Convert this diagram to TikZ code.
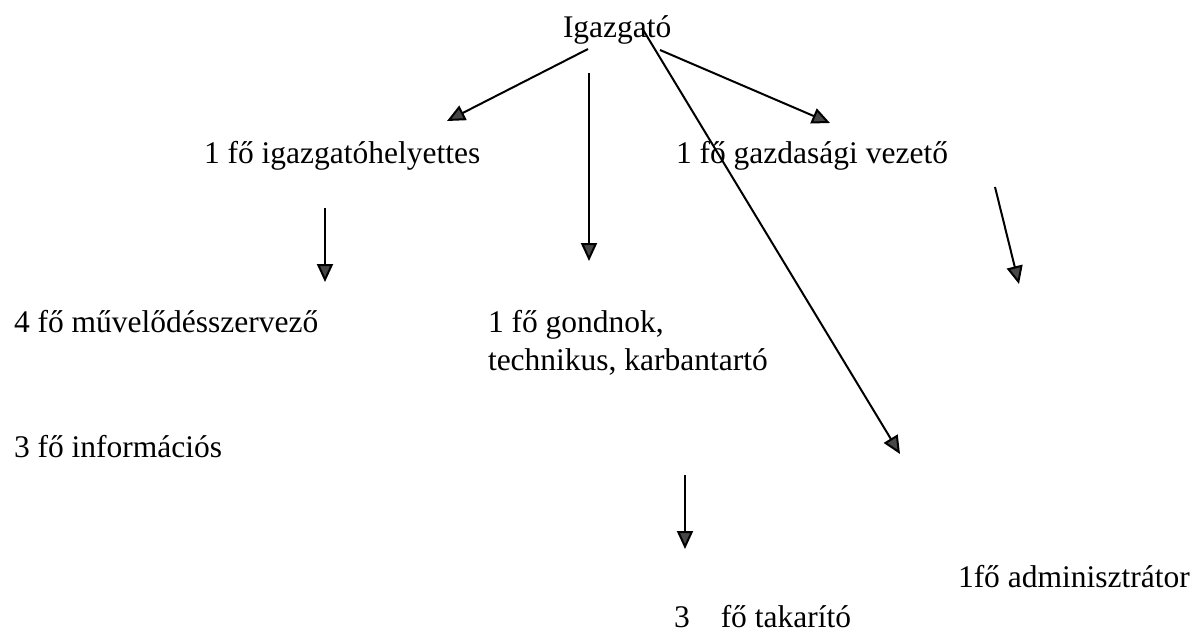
\documentclass[tikz,border=0pt]{standalone}
\usepackage{fontspec}
\setmainfont{Liberation Serif}
\usetikzlibrary{arrows.meta}

\begin{document}
\begin{tikzpicture}[x=1pt, y=-1pt, line width=2pt,
  txt/.style={anchor=base west, inner sep=0pt, font=\fontsize{31.5}{38}\selectfont},
  arr/.style={-{Triangle[length=18pt, width=16pt, fill=black!72]}}]
\useasboundingbox (0, 0) rectangle (1197, 633);
%Levels
\node[txt] (igazgato) at (562, 37) {Igazgató};
\node[txt] (helyettes) at (203, 163) {1 fő igazgatóhelyettes};
\node[txt] (gazdasagi) at (675, 163) {1 fő gazdasági vezető};
\node[txt] (muvelodes) at (13, 332) {4 fő művelődésszervező};
\node[txt, align=left] (gondnok) at (487, 370) {1 fő gondnok,\\technikus, karbantartó};
\node[txt] (informacios) at (13, 457) {3 fő információs};
\node[txt] (admin) at (957, 587) {1fő adminisztrátor};
\node[txt] (takarito) at (673, 627) {3\hspace{31pt}fő takarító};
%Arrow ends
\coordinate (a1) at (588, 49);  \coordinate (b1) at (447, 121);
\coordinate (a2) at (660, 50);  \coordinate (b2) at (830, 123);
\coordinate (a3) at (589, 73);  \coordinate (b3) at (589, 261);
\coordinate (a4) at (642, 28);  \coordinate (b4) at (900, 454);
\coordinate (a5) at (325, 208); \coordinate (b5) at (325, 282);
\coordinate (a6) at (995, 187); \coordinate (b6) at (1019, 284);
\coordinate (a7) at (685, 475); \coordinate (b7) at (685, 549);
\foreach \i in {1,...,7}
  \draw[arr] (a\i) -- (b\i);
\end{tikzpicture}
\end{document}
